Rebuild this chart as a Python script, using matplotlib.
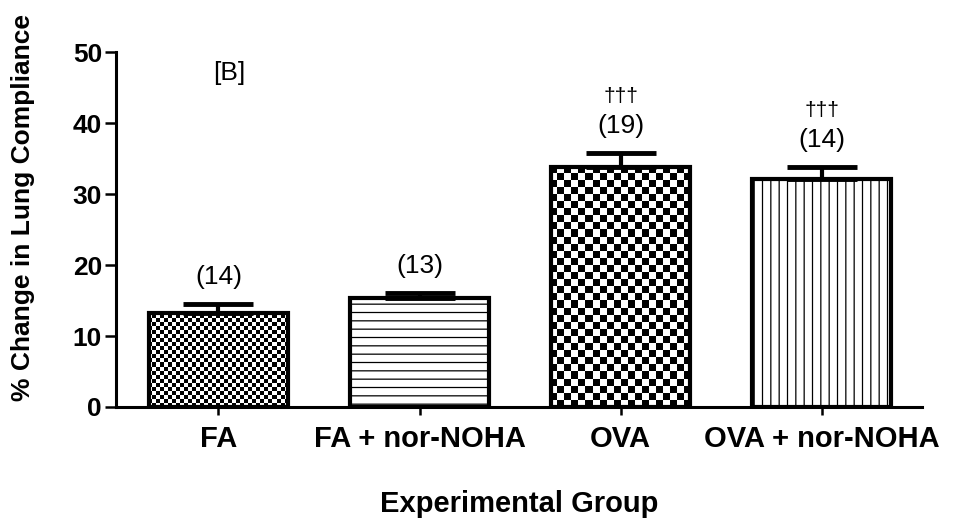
import numpy as np
import matplotlib
matplotlib.use("Agg")
import matplotlib.pyplot as plt

plt.rcParams['font.family'] = ['Liberation Sans', 'DejaVu Sans']
plt.rcParams['hatch.linewidth'] = 0.9

# data
groups = ['FA', 'FA + nor-NOHA', 'OVA', 'OVA + nor-NOHA']
means = [13.2, 15.3, 33.8, 32.1]
sems = [1.3, 0.7, 2.0, 1.7]
n_labels = ['(14)', '(13)', '(19)', '(14)']
marks = ['', '', '\u2020\u2020\u2020', '\u2020\u2020\u2020']

# fill style per bar: checker cell size in px (0 = none) and hatch
checker_px = [4, 0, 7, 0]
hatches = ['', '--', '', '||']

fig = plt.figure(figsize=(9.74, 5.25), dpi=100)
ax = fig.add_axes([0.119, 0.2248, 0.828, 0.676])

x = np.arange(len(groups))
ax.set_xlim(-0.51, 3.5)
ax.set_ylim(0, 50)

bars = ax.bar(x, means, width=0.69, color='white', edgecolor='black',
              linewidth=0, hatch=hatches, zorder=2)

# checkerboard fills, clipped to the bar shapes
for bar, cell in zip(bars, checker_px):
    if cell == 0:
        continue
    ncols = int(806 / cell)
    nrows = int(355 / cell)
    yy, xx = np.indices((nrows, ncols))
    board = ((xx + yy) % 2).astype(float)
    im = ax.imshow(board, cmap='gray', interpolation='nearest',
                   extent=[*ax.get_xlim(), *ax.get_ylim()],
                   aspect='auto', zorder=2.5)
    im.set_clip_path(bar)

# bar outlines on top
ax.bar(x, means, width=0.69, fill=False, edgecolor='black',
       linewidth=3, zorder=3)

ax.errorbar(x, means, yerr=[np.zeros(len(sems)), sems], fmt='none',
            ecolor='black', elinewidth=3, capsize=25, capthick=3.5, zorder=2.8)

# n per group and significance marks
for xi, m, s, lab, mk in zip(x, means, sems, n_labels, marks):
    top = m + s
    ax.text(xi, top + 3.8, lab, ha='center', va='center', fontsize=19)
    if mk:
        ax.text(xi, top + 8.0, mk, ha='center', va='center', fontsize=15)

ax.text(0.141, 0.94, '[B]', transform=ax.transAxes, ha='center',
        va='center', fontsize=19)

ax.spines['top'].set_visible(False)
ax.spines['right'].set_visible(False)
ax.spines['left'].set_linewidth(2.2)
ax.spines['bottom'].set_linewidth(2.2)

ax.set_yticks([0, 10, 20, 30, 40, 50])
ax.set_xticks(x)
ax.set_xticklabels(groups, fontsize=21, fontweight='bold')
ax.tick_params(axis='y', length=8, width=1.8, labelsize=19, pad=2)
ax.tick_params(axis='x', length=6, width=1.8, pad=7)
for t in ax.get_yticklabels():
    t.set_fontweight('bold')

ax.set_ylabel('% Change in Lung Compliance', fontsize=19, fontweight='bold')
ax.yaxis.set_label_coords(-0.10, 0.563)
ax.set_xlabel('Experimental Group', fontsize=21, fontweight='bold')
ax.xaxis.set_label_coords(0.5, -0.235)

fig.savefig('out.png', dpi=100)
